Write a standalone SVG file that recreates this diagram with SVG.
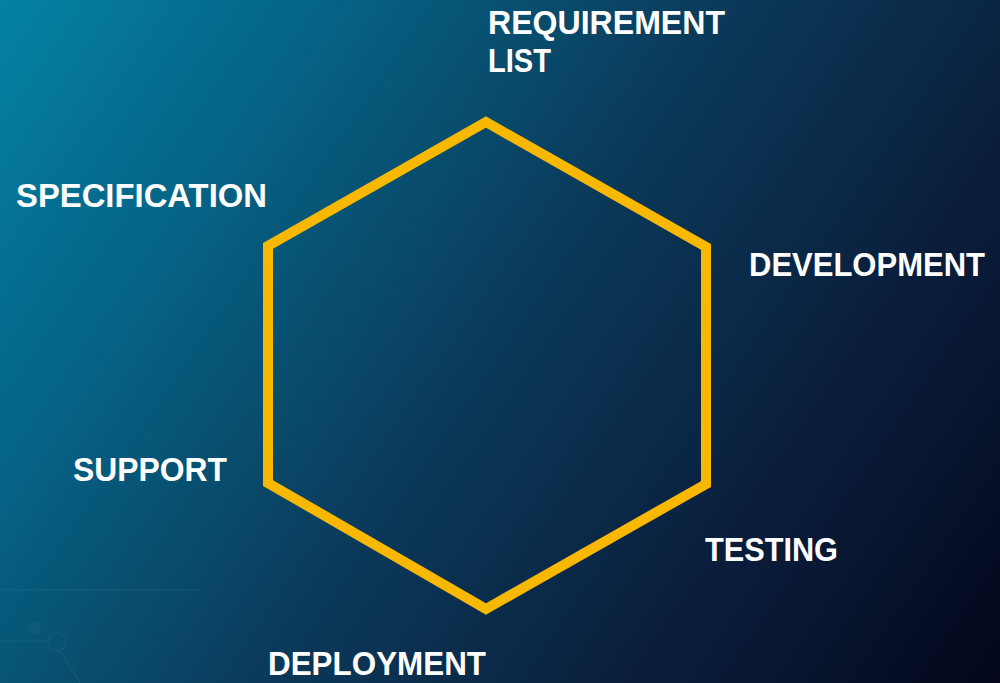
<svg xmlns="http://www.w3.org/2000/svg" width="1000" height="683" viewBox="0 0 1000 683">
  <defs>
    <linearGradient id="bg" x1="0" y1="0" x2="1000" y2="683" gradientUnits="userSpaceOnUse">
      <stop offset="0" stop-color="#0481a4"/>
      <stop offset="0.22" stop-color="#056486"/>
      <stop offset="0.5" stop-color="#0b3959"/>
      <stop offset="0.75" stop-color="#0a1e3c"/>
      <stop offset="1" stop-color="#04071b"/>
    </linearGradient>
    <style>
      .lbl { font-family: "Liberation Sans", Arial, sans-serif; font-weight: bold; font-size: 33px; fill: #ffffff; }
      .hex { fill: none; stroke: #f9b800; stroke-width: 10; stroke-linejoin: miter; }
      .circ { fill: none; stroke: #2a6a88; stroke-opacity: 0.3; stroke-width: 1.5; }
    </style>
  </defs>
  <rect x="0" y="0" width="1000" height="683" fill="url(#bg)"/>
  <g id="decor">
    <line class="circ" x1="0" y1="590" x2="200" y2="590"/>
    <line class="circ" x1="0" y1="641" x2="48" y2="641"/>
    <circle class="circ" cx="57" cy="642" r="9"/>
    <line class="circ" x1="60" y1="651" x2="80" y2="683"/>
    <circle cx="34" cy="628" r="7" fill="#1e5f86" fill-opacity="0.35"/>
  </g>
  <g id="connectors">
    <polygon id="hexagon" class="hex" points="486,122 706,247 706,484 486,609 268,483 268,246"/>
  </g>
  <g id="node-requirement">
    <text class="lbl" x="488" y="34" textLength="237" lengthAdjust="spacingAndGlyphs">REQUIREMENT</text>
    <text class="lbl" x="488" y="72" textLength="63" lengthAdjust="spacingAndGlyphs">LIST</text>
  </g>
  <g id="node-specification">
    <text class="lbl" x="16" y="207" textLength="251" lengthAdjust="spacingAndGlyphs">SPECIFICATION</text>
  </g>
  <g id="node-development">
    <text class="lbl" x="749" y="276" textLength="236" lengthAdjust="spacingAndGlyphs">DEVELOPMENT</text>
  </g>
  <g id="node-support">
    <text class="lbl" x="73" y="481" textLength="154" lengthAdjust="spacingAndGlyphs">SUPPORT</text>
  </g>
  <g id="node-testing">
    <text class="lbl" x="705" y="561" textLength="133" lengthAdjust="spacingAndGlyphs">TESTING</text>
  </g>
  <g id="node-deployment">
    <text class="lbl" x="268" y="675" textLength="218" lengthAdjust="spacingAndGlyphs">DEPLOYMENT</text>
  </g>
</svg>
